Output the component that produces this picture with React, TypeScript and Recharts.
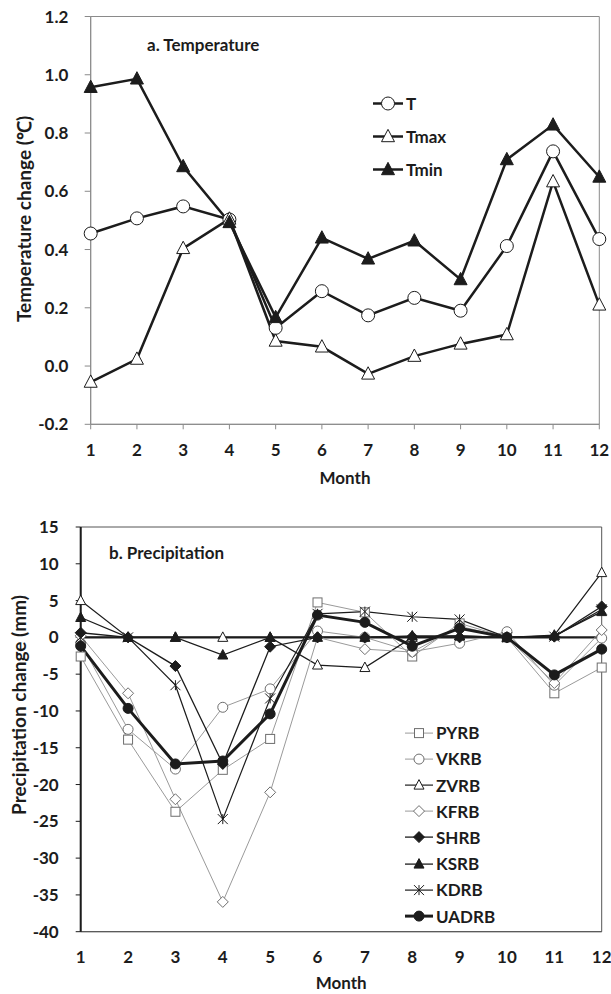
import React from "react";
import {
  Label,
  Legend,
  Line,
  LineChart,
  ReferenceArea,
  ReferenceLine,
  XAxis,
  YAxis,
} from "recharts";

// ---- data ----
const months = [1, 2, 3, 4, 5, 6, 7, 8, 9, 10, 11, 12];

const tMean = [0.455, 0.507, 0.548, 0.503, 0.131, 0.257, 0.174, 0.234, 0.19, 0.412, 0.737, 0.436];
const tMax = [-0.055, 0.024, 0.404, 0.505, 0.086, 0.066, -0.027, 0.034, 0.076, 0.108, 0.633, 0.21];
const tMin = [0.957, 0.986, 0.685, 0.493, 0.167, 0.44, 0.368, 0.43, 0.297, 0.709, 0.828, 0.649];

const pyrb = [-2.6, -13.9, -23.7, -18.0, -13.8, 4.75, 3.4, -2.6, 1.9, 0, -7.6, -4.1];
const vkrb = [-0.8, -12.5, -17.9, -9.5, -7.0, 0.86, 0, -1.95, -0.8, 0.77, -6.5, -0.1];
const zvrb = [5.0, 0, 0, 0, 0, -3.76, -4.1, 0, 0.2, 0, 0.3, 8.8];
const kfrb = [0.2, -7.6, -22.0, -35.95, -21.06, 0, -1.6, -2.0, 1.5, 0, -6.2, 1.0];
const shrb = [0.63, 0, -3.9, -17.2, -1.27, 0, 0, 0.1, 0, 0, 0.1, 4.2];
const ksrb = [2.7, 0, 0, -2.4, 0, 0, 0, 0.2, 0.2, 0, 0.2, 3.5];
const kdrb = [0, 0, -6.5, -24.7, -8.3, 3.2, 3.5, 2.8, 2.44, 0, 0.1, 3.8];
const uadrb = [-1.18, -9.65, -17.2, -16.8, -10.4, 3.03, 2.04, -1.2, 1.22, 0, -5.1, -1.6];

const tempTicks = [-0.2, 0, 0.2, 0.4, 0.6, 0.8, 1.0, 1.2];
const precTicks = [-40, -35, -30, -25, -20, -15, -10, -5, 0, 5, 10, 15];

const tempData = months.map((m, i) => ({ month: m, T: tMean[i], Tmax: tMax[i], Tmin: tMin[i] }));
const precData = months.map((m, i) => ({
  month: m,
  PYRB: pyrb[i],
  VKRB: vkrb[i],
  ZVRB: zvrb[i],
  KFRB: kfrb[i],
  SHRB: shrb[i],
  KSRB: ksrb[i],
  KDRB: kdrb[i],
  UADRB: uadrb[i],
}));

const FONT = "Lato, 'Open Sans', sans-serif";
const INK = "#1c1c1c";
const FRAME = "#8a8a8a";

type Kind = "circle" | "triangle" | "square" | "diamond" | "star";

type Series = {
  key: string;
  kind: Kind;
  line: string;
  width: number;
  fill: string;
  stroke: string;
  size: number;
};

const tempSeries: Series[] = [
  { key: "T", kind: "circle", line: INK, width: 2.5, fill: "#fff", stroke: INK, size: 13 },
  { key: "Tmax", kind: "triangle", line: INK, width: 2.5, fill: "#fff", stroke: INK, size: 13 },
  { key: "Tmin", kind: "triangle", line: INK, width: 2.5, fill: INK, stroke: INK, size: 13 },
];

const GREY = "#9a9a9a";
const GREY_MK = "#6e6e6e";
const precSeries: Series[] = [
  { key: "PYRB", kind: "square", line: GREY, width: 1, fill: "#fff", stroke: GREY_MK, size: 9 },
  { key: "VKRB", kind: "circle", line: GREY, width: 1, fill: "#fff", stroke: GREY_MK, size: 10 },
  { key: "ZVRB", kind: "triangle", line: INK, width: 1.2, fill: "#fff", stroke: INK, size: 10 },
  { key: "KFRB", kind: "diamond", line: GREY, width: 1, fill: "#fff", stroke: GREY_MK, size: 10 },
  { key: "SHRB", kind: "diamond", line: INK, width: 1.3, fill: INK, stroke: INK, size: 10 },
  { key: "KSRB", kind: "triangle", line: INK, width: 1.3, fill: INK, stroke: INK, size: 10 },
  { key: "KDRB", kind: "star", line: INK, width: 1.2, fill: "none", stroke: INK, size: 10 },
  { key: "UADRB", kind: "circle", line: INK, width: 3, fill: INK, stroke: INK, size: 10 },
];

function Marker({ s, cx, cy }: { s: Series; cx: number; cy: number }) {
  const h = s.size / 2;
  const sw = 1;
  switch (s.kind) {
    case "circle":
      return <circle cx={cx} cy={cy} r={h} fill={s.fill} stroke={s.stroke} strokeWidth={sw} />;
    case "square":
      return <rect x={cx - h} y={cy - h} width={s.size} height={s.size} fill={s.fill} stroke={s.stroke} strokeWidth={sw} />;
    case "diamond": {
      const d = h * 1.1;
      return (
        <polygon
          points={`${cx},${cy - d} ${cx + d},${cy} ${cx},${cy + d} ${cx - d},${cy}`}
          fill={s.fill}
          stroke={s.stroke}
          strokeWidth={sw}
        />
      );
    }
    case "triangle":
      return (
        <polygon
          points={`${cx},${cy - h * 1.1} ${cx + h},${cy + h * 0.8} ${cx - h},${cy + h * 0.8}`}
          fill={s.fill}
          stroke={s.stroke}
          strokeWidth={sw}
        />
      );
    default:
      return (
        <g stroke={s.stroke} strokeWidth={1}>
          <line x1={cx - h} y1={cy - h} x2={cx + h} y2={cy + h} />
          <line x1={cx - h} y1={cy + h} x2={cx + h} y2={cy - h} />
          <line x1={cx} y1={cy - h} x2={cx} y2={cy + h} />
        </g>
      );
  }
}

function LegendBox({ items, rowH, lineW }: { items: Series[]; rowH: number; lineW: number }) {
  return (
    <div style={{ fontFamily: FONT, fontWeight: 700, fontSize: 17, color: INK }}>
      {items.map((s) => (
        <div key={s.key} style={{ display: "flex", alignItems: "center", height: rowH }}>
          <svg width={lineW} height={rowH} style={{ display: "block" }}>
            <line x1={0} x2={lineW} y1={rowH / 2} y2={rowH / 2} stroke={s.line} strokeWidth={s.width} />
            <Marker s={s} cx={lineW / 2} cy={rowH / 2} />
          </svg>
          <span style={{ marginLeft: 3, lineHeight: 1 }}>{s.key}</span>
        </div>
      ))}
    </div>
  );
}

const tickStyle = { fill: INK, fontSize: 17, fontWeight: 700, fontFamily: FONT };
const titleStyle: React.CSSProperties = {
  position: "absolute",
  fontFamily: FONT,
  fontWeight: 700,
  fontSize: 17,
  lineHeight: "17px",
  color: INK,
  whiteSpace: "nowrap",
};

// rotated axis title centred on (cx, cy)
function AxisTitle({ text, cx, cy, size }: { text: string; cx: number; cy: number; size: number }) {
  return (
    <div
      style={{
        ...titleStyle,
        fontSize: size,
        lineHeight: `${size}px`,
        left: cx,
        top: cy,
        transform: "translate(-50%, -50%) rotate(-90deg)",
      }}
    >
      {text}
    </div>
  );
}

export default function App() {
  return (
    <div style={{ position: "absolute", left: 0, top: 0, width: 611, height: 994, background: "#fff" }}>
      {/* a. Temperature */}
      <div style={{ position: "absolute", left: 0, top: 0 }}>
        <LineChart width={611} height={494} data={tempData} margin={{ top: 16.5, right: 11.7, bottom: 39.7, left: 0 }}>
          <ReferenceArea x1={1} x2={12} y1={-0.2} y2={1.2} fill="none" stroke={FRAME} strokeWidth={1} ifOverflow="visible" />
          <XAxis
            dataKey="month"
            type="number"
            domain={[1, 12]}
            ticks={months}
            height={30}
            stroke={FRAME}
            tickSize={5}
            tickMargin={14.6}
            tick={tickStyle}
          >
            <Label value="Month" position="bottom" offset={18} style={{ ...tickStyle, textAnchor: "middle" }} />
          </XAxis>
          <YAxis
            type="number"
            domain={[-0.2, 1.2]}
            ticks={tempTicks}
            width={90.7}
            stroke={FRAME}
            tickSize={6}
            tickMargin={16.4}
            tick={tickStyle}
            tickFormatter={(v: number) => v.toFixed(1)}
          />
          <Legend
            layout="vertical"
            align="center"
            verticalAlign="middle"
            wrapperStyle={{ left: 373, top: 86.8, width: 110 }}
            content={() => <LegendBox items={tempSeries} rowH={33} lineW={30} />}
          />
          {tempSeries.map((s) => (
            <Line
              key={s.key}
              dataKey={s.key}
              stroke={s.line}
              strokeWidth={s.width}
              isAnimationActive={false}
              activeDot={false}
              dot={(p: any) => <Marker key={`${s.key}-${p.index}`} s={s} cx={p.cx} cy={p.cy} />}
            />
          ))}
        </LineChart>
        <div style={{ ...titleStyle, left: 147, top: 36 }}>a. Temperature</div>
        <AxisTitle text="Temperature change (℃)" cx={22.5} cy={219} size={19} />
      </div>

      {/* b. Precipitation */}
      <div style={{ position: "absolute", left: 0, top: 494 }}>
        <LineChart width={611} height={500} data={precData} margin={{ top: 33, right: 9.3, bottom: 32.3, left: 0 }}>
          <ReferenceArea x1={1} x2={12} y1={-40} y2={15} fill="none" stroke="#555" strokeWidth={1} ifOverflow="visible" />
          <ReferenceLine y={0} stroke={INK} strokeWidth={2.2} />
          <XAxis
            dataKey="month"
            type="number"
            domain={[1, 12]}
            ticks={months}
            height={30}
            axisLine={{ stroke: "#555" }}
            tickLine={false}
            tickSize={5}
            tickMargin={14.5}
            tick={tickStyle}
          >
            <Label value="Month" position="bottom" offset={15.5} style={{ ...tickStyle, textAnchor: "middle" }} />
          </XAxis>
          <YAxis
            type="number"
            domain={[-40, 15]}
            ticks={precTicks}
            width={80.7}
            axisLine={{ stroke: INK, strokeWidth: 2 }}
            tickLine={{ stroke: INK, strokeWidth: 1 }}
            tickSize={5}
            tickMargin={17}
            tick={tickStyle}
          />
          <Legend
            layout="vertical"
            align="center"
            verticalAlign="middle"
            wrapperStyle={{ left: 405, top: 225.6, width: 110 }}
            content={() => <LegendBox items={precSeries} rowH={26.2} lineW={28} />}
          />
          {precSeries.map((s) => (
            <Line
              key={s.key}
              dataKey={s.key}
              stroke={s.line}
              strokeWidth={s.width}
              isAnimationActive={false}
              activeDot={false}
              dot={(p: any) => <Marker key={`${s.key}-${p.index}`} s={s} cx={p.cx} cy={p.cy} />}
            />
          ))}
        </LineChart>
        <div style={{ ...titleStyle, left: 109, top: 50 }}>b. Precipitation</div>
        <AxisTitle text="Precipitation change (mm)" cx={18} cy={211} size={19} />
      </div>
    </div>
  );
}
